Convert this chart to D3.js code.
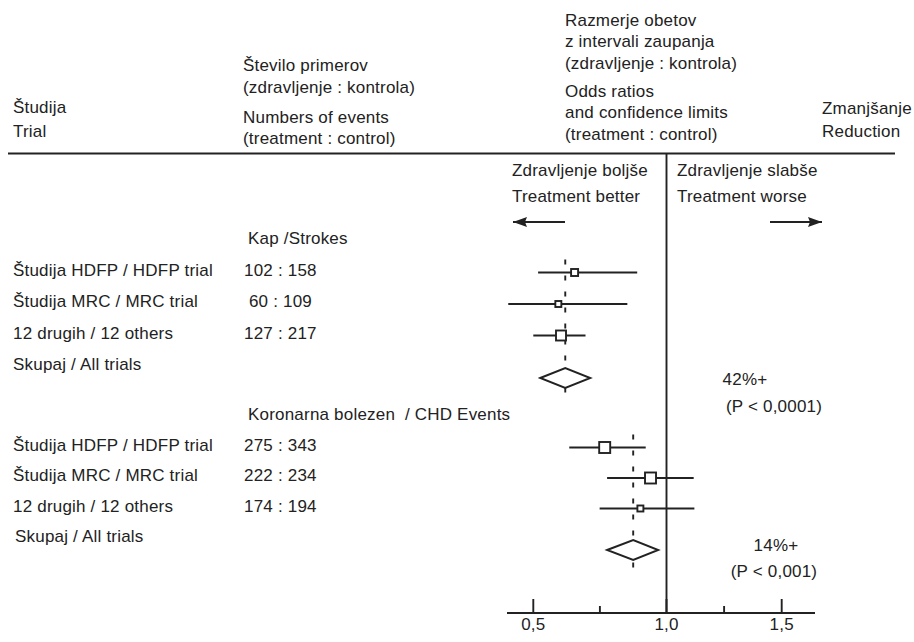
<!DOCTYPE html>
<html>
<head>
<meta charset="utf-8">
<script src="https://cdn.jsdelivr.net/npm/d3@7"></script>
<style>
  body { margin: 0; background: #fff; }
  text { font-family: "Liberation Sans", Arial, sans-serif; font-size: 17px; fill: #222; white-space: pre; letter-spacing: 0.2px; }
  .rule { stroke: #222; stroke-width: 2.2; }
  .ci { stroke: #222; stroke-width: 1.9; }
  .box { fill: #fff; stroke: #222; stroke-width: 1.9; }
  .pooled { stroke: #222; stroke-width: 1.9; stroke-dasharray: 5, 11; }
</style>
</head>
<body>
<div id="plot"></div>
<script>
const FRAME_WIDTH = 914;
const FRAME_HEIGHT = 642;

// group titles
const groups = ["Kap /Strokes", "Koronarna bolezen  / CHD Events"];

// trial labels and event counts (treatment : control)
const trials = ["Študija HDFP / HDFP trial", "Študija MRC / MRC trial", "12 drugih / 12 others"];
const events = [
  ["102 : 158", " 60 : 109", "127 : 217"],
  ["275 : 343", "222 : 234", "174 : 194"]
];

// odds ratios with confidence limits, per group
const oddsRatio = [[0.655, 0.594, 0.604], [0.768, 0.94, 0.902]];
const lowerCI   = [[0.518, 0.406, 0.50], [0.635, 0.777, 0.749]];
const upperCI   = [[0.89, 0.853, 0.696], [0.922, 1.118, 1.121]];
const boxWeight = [[7, 6, 10], [11, 11, 6]];

// pooled results (all trials)
const pooledOR    = [0.62, 0.875];
const pooledLower = [0.526, 0.777];
const pooledUpper = [0.714, 0.969];
const reduction   = ["42%+", "14%+"];
const pValue      = ["(P < 0,0001)", "(P < 0,001)"];

// axis ticks
const majorTicks = [0.5, 1.0, 1.5];
const minorTicks = [0.75, 1.25];

const FRAME1 = d3.select("#plot")
  .append("svg")
    .attr("width", FRAME_WIDTH)
    .attr("height", FRAME_HEIGHT);

// x scale (odds ratio); the printed axis is slightly uneven
const x = d3.scaleLinear()
  .domain([0.5, 1.0, 1.5])
  .range([533.3, 666.5, 781.7]);

// row slots: 0 = group title, 1..3 = trials, 4 = all trials; second group starts at 5
const y = d3.scaleLinear()
  .domain([0, 4, 5, 9])
  .range([240, 366, 416, 538]);

// ---------- header ----------
function addText(tx, ty, str, anchor) {
  FRAME1.append("text")
    .attr("x", tx)
    .attr("y", ty)
    .attr("text-anchor", anchor || "start")
    .attr("dominant-baseline", "middle")
    .text(str);
}

addText(13, 109, "Študija");
addText(13, 133, "Trial");

addText(243, 67, "Število primerov");
addText(243, 89, "(zdravljenje : kontrola)");
addText(243, 119, "Numbers of events");
addText(243, 140, "(treatment : control)");

addText(565, 22, "Razmerje obetov");
addText(565, 43, "z intervali zaupanja");
addText(565, 65, "(zdravljenje : kontrola)");
addText(565, 93, "Odds ratios");
addText(565, 114, "and confidence limits");
addText(565, 136, "(treatment : control)");

addText(822, 110, "Zmanjšanje");
addText(822, 133, "Reduction");

FRAME1.append("line")
  .attr("class", "rule")
  .attr("x1", 8).attr("x2", 895)
  .attr("y1", 153.5).attr("y2", 153.5);

// ---------- direction labels and arrows ----------
addText(512, 172, "Zdravljenje boljše");
addText(512, 198, "Treatment better");
addText(677, 172, "Zdravljenje slabše");
addText(677, 198, "Treatment worse");

FRAME1.append("defs").append("marker")
  .attr("id", "head")
  .attr("viewBox", "0 0 14 10")
  .attr("refX", 14).attr("refY", 5)
  .attr("markerWidth", 14).attr("markerHeight", 10)
  .attr("markerUnits", "userSpaceOnUse")
  .attr("orient", "auto")
  .append("path")
    .attr("d", "M0,0L14,5L0,10L2,5Z")
    .attr("fill", "#222");

FRAME1.append("line")
  .attr("class", "rule")
  .attr("x1", 565).attr("x2", 513)
  .attr("y1", 222).attr("y2", 222)
  .attr("marker-end", "url(#head)");

FRAME1.append("line")
  .attr("class", "rule")
  .attr("x1", 770).attr("x2", 822)
  .attr("y1", 222).attr("y2", 222)
  .attr("marker-end", "url(#head)");

// ---------- line of no effect ----------
FRAME1.append("line")
  .attr("class", "ci")
  .attr("x1", x(1)).attr("x2", x(1))
  .attr("y1", 154).attr("y2", 613);

// ---------- groups ----------
const reductionX = [745, 776];
const reductionDy = [[3, 30], [-3, 23]];

groups.forEach(function(title, g) {
  const base = g * 5;

  addText(248, y(base), title);

  // pooled dashed line
  FRAME1.append("line")
    .attr("class", "pooled")
    .attr("x1", x(pooledOR[g])).attr("x2", x(pooledOR[g]))
    .attr("y1", y(base + 1) - 12).attr("y2", y(base + 4) + 30);

  trials.forEach(function(label, i) {
    const ry = y(base + 1 + i);
    addText(13, ry, label);
    addText(244, ry, events[g][i]);

    FRAME1.append("line")
      .attr("class", "ci")
      .attr("x1", x(lowerCI[g][i])).attr("x2", x(upperCI[g][i]))
      .attr("y1", ry + 1).attr("y2", ry + 1);

    const s = boxWeight[g][i];
    FRAME1.append("rect")
      .attr("class", "box")
      .attr("x", x(oddsRatio[g][i]) - s / 2)
      .attr("y", ry + 1 - s / 2)
      .attr("width", s)
      .attr("height", s);
  });

  // all trials row
  const ay = y(base + 4);
  addText(g === 0 ? 13 : 15, ay, "Skupaj / All trials");

  const dy = ay + 12;
  FRAME1.append("path")
    .attr("class", "box")
    .attr("d", "M" + x(pooledLower[g]) + "," + dy +
               "L" + x(pooledOR[g]) + "," + (dy - 10) +
               "L" + x(pooledUpper[g]) + "," + dy +
               "L" + x(pooledOR[g]) + "," + (dy + 10) + "Z");

  // reduction
  addText(reductionX[g], dy + reductionDy[g][0], reduction[g], "middle");
  addText(774, dy + reductionDy[g][1], pValue[g], "middle");
});

// ---------- x axis ----------
const AXIS_Y = 613;

FRAME1.append("line")
  .attr("class", "rule")
  .attr("x1", 507).attr("x2", 815)
  .attr("y1", AXIS_Y).attr("y2", AXIS_Y);

FRAME1.selectAll(".major")
  .data(majorTicks)
  .enter()
  .append("line")
    .attr("class", "ci")
    .attr("x1", d => x(d)).attr("x2", d => x(d))
    .attr("y1", AXIS_Y - 14).attr("y2", AXIS_Y);

FRAME1.selectAll(".minor")
  .data(minorTicks)
  .enter()
  .append("line")
    .attr("class", "ci")
    .attr("x1", d => x(d)).attr("x2", d => x(d))
    .attr("y1", AXIS_Y - 7).attr("y2", AXIS_Y);

FRAME1.selectAll(".ticklabel")
  .data(majorTicks)
  .enter()
  .append("text")
    .attr("x", d => x(d))
    .attr("y", 626)
    .attr("text-anchor", "middle")
    .attr("dominant-baseline", "middle")
    .text(d => d.toFixed(1).replace(".", ","));
</script>
</body>
</html>
